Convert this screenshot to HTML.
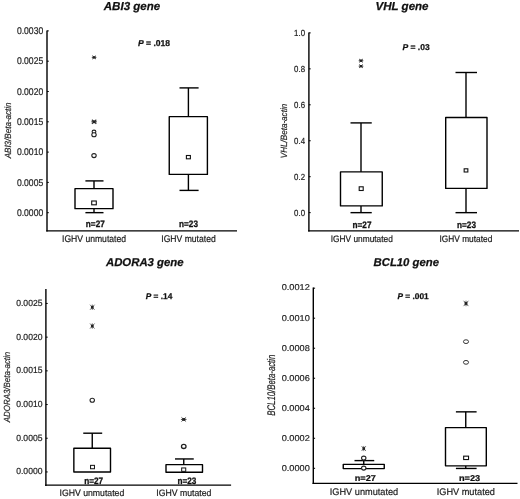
<!DOCTYPE html>
<html><head><meta charset="utf-8"><title>Gene expression box plots</title>
<style>
html,body{margin:0;padding:0;background:#fff;}
svg{display:block;font-family:"Liberation Sans", Arial, Helvetica, sans-serif;will-change:transform;text-rendering:geometricPrecision;}
</style></head><body>
<svg width="520" height="499" viewBox="0 0 520 499">
<rect width="520" height="499" fill="#fff"/>
<g transform="translate(0,0.4)">
<line x1="47" y1="30.2" x2="47" y2="231.2" stroke="#000" stroke-width="1.4"/>
<line x1="46.25" y1="230.5" x2="237" y2="230.5" stroke="#000" stroke-width="1.25"/>
<line x1="47" y1="212.3" x2="48.8" y2="212.3" stroke="#000" stroke-width="1.0"/>
<text transform="translate(43.20,215.40) scale(1,1.13)" font-size="8.6" text-anchor="end" font-weight="normal" font-style="normal" fill="#222"  stroke="#222" stroke-width="0.18">0.0000</text>
<line x1="47" y1="182.0" x2="48.8" y2="182.0" stroke="#000" stroke-width="1.0"/>
<text transform="translate(43.20,185.10) scale(1,1.13)" font-size="8.6" text-anchor="end" font-weight="normal" font-style="normal" fill="#222"  stroke="#222" stroke-width="0.18">0.0005</text>
<line x1="47" y1="151.70000000000002" x2="48.8" y2="151.70000000000002" stroke="#000" stroke-width="1.0"/>
<text transform="translate(43.20,154.80) scale(1,1.13)" font-size="8.6" text-anchor="end" font-weight="normal" font-style="normal" fill="#222"  stroke="#222" stroke-width="0.18">0.0010</text>
<line x1="47" y1="121.4" x2="48.8" y2="121.4" stroke="#000" stroke-width="1.0"/>
<text transform="translate(43.20,124.50) scale(1,1.13)" font-size="8.6" text-anchor="end" font-weight="normal" font-style="normal" fill="#222"  stroke="#222" stroke-width="0.18">0.0015</text>
<line x1="47" y1="91.10000000000001" x2="48.8" y2="91.10000000000001" stroke="#000" stroke-width="1.0"/>
<text transform="translate(43.20,94.20) scale(1,1.13)" font-size="8.6" text-anchor="end" font-weight="normal" font-style="normal" fill="#222"  stroke="#222" stroke-width="0.18">0.0020</text>
<line x1="47" y1="60.80000000000001" x2="48.8" y2="60.80000000000001" stroke="#000" stroke-width="1.0"/>
<text transform="translate(43.20,63.90) scale(1,1.13)" font-size="8.6" text-anchor="end" font-weight="normal" font-style="normal" fill="#222"  stroke="#222" stroke-width="0.18">0.0025</text>
<line x1="47" y1="30.5" x2="48.8" y2="30.5" stroke="#000" stroke-width="1.0"/>
<text transform="translate(43.20,33.60) scale(1,1.13)" font-size="8.6" text-anchor="end" font-weight="normal" font-style="normal" fill="#222"  stroke="#222" stroke-width="0.18">0.0030</text>
<line x1="94" y1="180.5" x2="94" y2="188.25" stroke="#000" stroke-width="1.4"/>
<line x1="85.4" y1="180.5" x2="103.5" y2="180.5" stroke="#000" stroke-width="1.4"/>
<line x1="94" y1="208.25" x2="94" y2="212.25" stroke="#000" stroke-width="1.4"/>
<line x1="85.4" y1="212.25" x2="103.5" y2="212.25" stroke="#000" stroke-width="1.4"/>
<rect x="75" y="188.25" width="38" height="20.0" fill="#fff" stroke="#000" stroke-width="1.4" stroke-linejoin="round"/>
<line x1="188.4" y1="87.5" x2="188.4" y2="116.25" stroke="#000" stroke-width="1.4"/>
<line x1="179.5" y1="87.5" x2="198.6" y2="87.5" stroke="#000" stroke-width="1.4"/>
<line x1="188.4" y1="174" x2="188.4" y2="190" stroke="#000" stroke-width="1.4"/>
<line x1="179.5" y1="190" x2="198.6" y2="190" stroke="#000" stroke-width="1.4"/>
<rect x="169.25" y="116.25" width="38.150000000000006" height="57.75" fill="#fff" stroke="#000" stroke-width="1.4" stroke-linejoin="round"/>
<rect x="91.70" y="200.60" width="4.60" height="3.8" fill="#fff" stroke="#111" stroke-width="1.1"/>
<rect x="186.40" y="155.10" width="3.99" height="3.3" fill="#fff" stroke="#111" stroke-width="1.1"/>
<ellipse cx="94" cy="155.2" rx="2.21" ry="1.99" fill="#fff" stroke="#222" stroke-width="1.1"/>
<ellipse cx="94" cy="131.4" rx="1.89" ry="1.70" fill="#fff" stroke="#222" stroke-width="1.1"/>
<ellipse cx="94" cy="134.4" rx="2.21" ry="1.99" fill="#fff" stroke="#222" stroke-width="1.1"/>
<g stroke="#333" stroke-width="1.1"><line x1="91.40" y1="121.4" x2="96.80" y2="121.4"/><line x1="91.89" y1="119.38" x2="96.31" y2="123.43"/><line x1="91.89" y1="123.43" x2="96.31" y2="119.38"/><rect x="92.75" y="120.05" width="2.70" height="2.70" fill="#222" stroke="none"/></g>
<g stroke="#333" stroke-width="0.9"><line x1="91.80" y1="57.0" x2="96.40" y2="57.0"/><line x1="92.21" y1="55.27" x2="95.99" y2="58.73"/><line x1="92.21" y1="58.73" x2="95.99" y2="55.27"/><rect x="92.95" y="55.85" width="2.30" height="2.30" fill="#222" stroke="none"/></g>
</g>
<text transform="translate(95.30,227.40) scale(1,1.14)" font-size="8.2" text-anchor="middle" font-weight="bold" font-style="normal" fill="#111"  stroke="#111" stroke-width="0.25">n=27</text>
<text transform="translate(188.50,227.40) scale(1,1.14)" font-size="8.2" text-anchor="middle" font-weight="bold" font-style="normal" fill="#111"  stroke="#111" stroke-width="0.25">n=23</text>
<text transform="translate(94.00,242.00) scale(1,1.12)" font-size="8.6" text-anchor="middle" font-weight="normal" font-style="normal" fill="#1a1a1a"  stroke="#1a1a1a" stroke-width="0.18">IGHV unmutated</text>
<text transform="translate(188.50,242.00) scale(1,1.12)" font-size="8.6" text-anchor="middle" font-weight="normal" font-style="normal" fill="#1a1a1a"  stroke="#1a1a1a" stroke-width="0.18">IGHV mutated</text>
<text x="138" y="46.0" font-size="8.55" font-weight="bold" fill="#111" stroke="#111" stroke-width="0.25"><tspan font-style="italic">P</tspan> = .018</text>
<text transform="translate(132.00,10.30) scale(1,1.0)" font-size="11.55" text-anchor="middle" font-weight="bold" font-style="italic" fill="#111"  stroke="#111" stroke-width="0.25">ABI3 gene</text>
<text transform="translate(10.6,130.4) rotate(-90) scale(1,1.12)" font-size="8.06" text-anchor="middle" font-style="italic" fill="#222" stroke="#222" stroke-width="0.15">ABI3/Beta-actin</text>
<g transform="translate(0,0.4)">
<line x1="308.9" y1="32.2" x2="308.9" y2="231.2" stroke="#000" stroke-width="1.4"/>
<line x1="308.15" y1="230.5" x2="519" y2="230.5" stroke="#000" stroke-width="1.25"/>
<line x1="308.9" y1="212.25" x2="310.7" y2="212.25" stroke="#000" stroke-width="1.0"/>
<text transform="translate(305.00,215.48) scale(1,1.13)" font-size="7.85" text-anchor="end" font-weight="normal" font-style="normal" fill="#222"  stroke="#222" stroke-width="0.18">0.0</text>
<line x1="308.9" y1="176.3" x2="310.7" y2="176.3" stroke="#000" stroke-width="1.0"/>
<text transform="translate(305.00,179.53) scale(1,1.13)" font-size="7.85" text-anchor="end" font-weight="normal" font-style="normal" fill="#222"  stroke="#222" stroke-width="0.18">0.2</text>
<line x1="308.9" y1="140.35" x2="310.7" y2="140.35" stroke="#000" stroke-width="1.0"/>
<text transform="translate(305.00,143.58) scale(1,1.13)" font-size="7.85" text-anchor="end" font-weight="normal" font-style="normal" fill="#222"  stroke="#222" stroke-width="0.18">0.4</text>
<line x1="308.9" y1="104.4" x2="310.7" y2="104.4" stroke="#000" stroke-width="1.0"/>
<text transform="translate(305.00,107.63) scale(1,1.13)" font-size="7.85" text-anchor="end" font-weight="normal" font-style="normal" fill="#222"  stroke="#222" stroke-width="0.18">0.6</text>
<line x1="308.9" y1="68.44999999999999" x2="310.7" y2="68.44999999999999" stroke="#000" stroke-width="1.0"/>
<text transform="translate(305.00,71.68) scale(1,1.13)" font-size="7.85" text-anchor="end" font-weight="normal" font-style="normal" fill="#222"  stroke="#222" stroke-width="0.18">0.8</text>
<line x1="308.9" y1="32.5" x2="310.7" y2="32.5" stroke="#000" stroke-width="1.0"/>
<text transform="translate(305.00,35.73) scale(1,1.13)" font-size="7.85" text-anchor="end" font-weight="normal" font-style="normal" fill="#222"  stroke="#222" stroke-width="0.18">1.0</text>
<line x1="361" y1="122.5" x2="361" y2="171.5" stroke="#000" stroke-width="1.4"/>
<line x1="350.5" y1="122.5" x2="371.75" y2="122.5" stroke="#000" stroke-width="1.4"/>
<line x1="361" y1="205.5" x2="361" y2="212.25" stroke="#000" stroke-width="1.4"/>
<line x1="350.5" y1="212.25" x2="371.75" y2="212.25" stroke="#000" stroke-width="1.4"/>
<rect x="340.5" y="171.5" width="41.75" height="34.0" fill="#fff" stroke="#000" stroke-width="1.4" stroke-linejoin="round"/>
<line x1="466" y1="72.1" x2="466" y2="117.1" stroke="#000" stroke-width="1.4"/>
<line x1="455.5" y1="72.1" x2="477" y2="72.1" stroke="#000" stroke-width="1.4"/>
<line x1="466" y1="188" x2="466" y2="212.25" stroke="#000" stroke-width="1.4"/>
<line x1="455.5" y1="212.25" x2="477" y2="212.25" stroke="#000" stroke-width="1.4"/>
<rect x="445.7" y="117.1" width="41.30000000000001" height="70.9" fill="#fff" stroke="#000" stroke-width="1.4" stroke-linejoin="round"/>
<rect x="359.20" y="186.40" width="4.00" height="3.7" fill="#fff" stroke="#111" stroke-width="1.1"/>
<rect x="464.16" y="168.40" width="3.68" height="3.2" fill="#fff" stroke="#111" stroke-width="1.1"/>
<g stroke="#333" stroke-width="0.9"><line x1="358.70" y1="60.3" x2="363.30" y2="60.3"/><line x1="359.11" y1="58.57" x2="362.89" y2="62.02"/><line x1="359.11" y1="62.02" x2="362.89" y2="58.57"/><rect x="359.85" y="59.15" width="2.30" height="2.30" fill="#222" stroke="none"/></g>
<g stroke="#333" stroke-width="0.9"><line x1="358.70" y1="65.8" x2="363.30" y2="65.8"/><line x1="359.11" y1="64.08" x2="362.89" y2="67.52"/><line x1="359.11" y1="67.52" x2="362.89" y2="64.08"/><rect x="359.85" y="64.65" width="2.30" height="2.30" fill="#222" stroke="none"/></g>
</g>
<text transform="translate(362.00,227.60) scale(1,1.14)" font-size="8.2" text-anchor="middle" font-weight="bold" font-style="normal" fill="#111"  stroke="#111" stroke-width="0.25">n=27</text>
<text transform="translate(466.50,227.60) scale(1,1.14)" font-size="8.2" text-anchor="middle" font-weight="bold" font-style="normal" fill="#111"  stroke="#111" stroke-width="0.25">n=23</text>
<text transform="translate(361.80,242.10) scale(1,1.12)" font-size="8.33" text-anchor="middle" font-weight="normal" font-style="normal" fill="#1a1a1a"  stroke="#1a1a1a" stroke-width="0.18">IGHV unmutated</text>
<text transform="translate(465.90,242.10) scale(1,1.12)" font-size="8.33" text-anchor="middle" font-weight="normal" font-style="normal" fill="#1a1a1a"  stroke="#1a1a1a" stroke-width="0.18">IGHV mutated</text>
<text x="402.5" y="49.9" font-size="8.5" font-weight="bold" fill="#111" stroke="#111" stroke-width="0.25"><tspan font-style="italic">P</tspan> = .03</text>
<text transform="translate(402.00,10.00) scale(1,1.0)" font-size="11.55" text-anchor="middle" font-weight="bold" font-style="italic" fill="#111"  stroke="#111" stroke-width="0.25">VHL gene</text>
<text transform="translate(287.0,131) rotate(-90) scale(1,1.12)" font-size="8.1" text-anchor="middle" font-style="italic" fill="#222" stroke="#222" stroke-width="0.15">VHL/Beta-actin</text>
<g transform="translate(0,0.45)">
<line x1="45.9" y1="288.45" x2="45.9" y2="485.45" stroke="#000" stroke-width="1.4"/>
<line x1="45.15" y1="484.75" x2="231.1" y2="484.75" stroke="#000" stroke-width="1.25"/>
<line x1="45.9" y1="471.5" x2="47.699999999999996" y2="471.5" stroke="#000" stroke-width="1.0"/>
<text transform="translate(42.50,474.00) scale(1,1.04)" font-size="8.6" text-anchor="end" font-weight="normal" font-style="normal" fill="#222"  stroke="#222" stroke-width="0.18">0.0000</text>
<line x1="45.9" y1="437.8" x2="47.699999999999996" y2="437.8" stroke="#000" stroke-width="1.0"/>
<text transform="translate(42.50,440.30) scale(1,1.04)" font-size="8.6" text-anchor="end" font-weight="normal" font-style="normal" fill="#222"  stroke="#222" stroke-width="0.18">0.0005</text>
<line x1="45.9" y1="404.1" x2="47.699999999999996" y2="404.1" stroke="#000" stroke-width="1.0"/>
<text transform="translate(42.50,406.60) scale(1,1.04)" font-size="8.6" text-anchor="end" font-weight="normal" font-style="normal" fill="#222"  stroke="#222" stroke-width="0.18">0.0010</text>
<line x1="45.9" y1="370.4" x2="47.699999999999996" y2="370.4" stroke="#000" stroke-width="1.0"/>
<text transform="translate(42.50,372.90) scale(1,1.04)" font-size="8.6" text-anchor="end" font-weight="normal" font-style="normal" fill="#222"  stroke="#222" stroke-width="0.18">0.0015</text>
<line x1="45.9" y1="336.7" x2="47.699999999999996" y2="336.7" stroke="#000" stroke-width="1.0"/>
<text transform="translate(42.50,339.20) scale(1,1.04)" font-size="8.6" text-anchor="end" font-weight="normal" font-style="normal" fill="#222"  stroke="#222" stroke-width="0.18">0.0020</text>
<line x1="45.9" y1="303.0" x2="47.699999999999996" y2="303.0" stroke="#000" stroke-width="1.0"/>
<text transform="translate(42.50,305.50) scale(1,1.04)" font-size="8.6" text-anchor="end" font-weight="normal" font-style="normal" fill="#222"  stroke="#222" stroke-width="0.18">0.0025</text>
<line x1="92.25" y1="432.75" x2="92.25" y2="447.75" stroke="#000" stroke-width="1.4"/>
<line x1="83.25" y1="432.75" x2="102.2" y2="432.75" stroke="#000" stroke-width="1.4"/>
<rect x="73.85" y="447.75" width="36.650000000000006" height="23.75" fill="#fff" stroke="#000" stroke-width="1.4" stroke-linejoin="round"/>
<line x1="183.75" y1="458.5" x2="183.75" y2="464.2" stroke="#000" stroke-width="1.4"/>
<line x1="175" y1="458.5" x2="193.75" y2="458.5" stroke="#000" stroke-width="1.4"/>
<rect x="166" y="464.2" width="36.5" height="7.550000000000011" fill="#fff" stroke="#000" stroke-width="1.4" stroke-linejoin="round"/>
<rect x="90.55" y="464.90" width="3.91" height="3.4" fill="#fff" stroke="#111" stroke-width="1.0"/>
<rect x="181.66" y="467.50" width="4.08" height="3.4" fill="#fff" stroke="#111" stroke-width="1.0"/>
<ellipse cx="92.25" cy="399.75" rx="2.21" ry="1.99" fill="#fff" stroke="#222" stroke-width="1.1"/>
<ellipse cx="183.75" cy="446" rx="2.27" ry="2.04" fill="#fff" stroke="#222" stroke-width="1.3"/>
<g stroke="#555" stroke-width="0.8"><line x1="92.3" y1="304.10" x2="92.3" y2="309.50"/><line x1="90.00" y1="304.24" x2="94.59" y2="309.37"/><line x1="90.00" y1="309.37" x2="94.59" y2="304.24"/><rect x="90.95" y="305.45" width="2.70" height="2.70" fill="#222" stroke="none"/></g>
<g stroke="#555" stroke-width="0.8"><line x1="92.3" y1="322.90" x2="92.3" y2="328.30"/><line x1="90.00" y1="323.04" x2="94.59" y2="328.17"/><line x1="90.00" y1="328.17" x2="94.59" y2="323.04"/><rect x="90.95" y="324.25" width="2.70" height="2.70" fill="#222" stroke="none"/></g>
<g stroke="#444" stroke-width="0.9"><line x1="180.95" y1="419.0" x2="186.55" y2="419.0"/><line x1="181.45" y1="416.90" x2="186.05" y2="421.10"/><line x1="181.45" y1="421.10" x2="186.05" y2="416.90"/><rect x="182.35" y="417.60" width="2.80" height="2.80" fill="#222" stroke="none"/></g>
</g>
<text transform="translate(93.60,484.20) scale(1,1.14)" font-size="8.2" text-anchor="middle" font-weight="bold" font-style="normal" fill="#111"  stroke="#111" stroke-width="0.25">n=27</text>
<text transform="translate(186.90,484.20) scale(1,1.14)" font-size="8.2" text-anchor="middle" font-weight="bold" font-style="normal" fill="#111"  stroke="#111" stroke-width="0.25">n=23</text>
<text transform="translate(91.90,496.00) scale(1,1.07)" font-size="8.7" text-anchor="middle" font-weight="normal" font-style="normal" fill="#1a1a1a"  stroke="#1a1a1a" stroke-width="0.18">IGHV unmutated</text>
<text transform="translate(183.80,496.00) scale(1,1.07)" font-size="8.7" text-anchor="middle" font-weight="normal" font-style="normal" fill="#1a1a1a"  stroke="#1a1a1a" stroke-width="0.18">IGHV mutated</text>
<text x="145.75" y="298.85" font-size="8.3" font-weight="bold" fill="#111" stroke="#111" stroke-width="0.25"><tspan font-style="italic">P</tspan> = .14</text>
<text transform="translate(144.75,265.60) scale(1,1.0)" font-size="11.37" text-anchor="middle" font-weight="bold" font-style="italic" fill="#111"  stroke="#111" stroke-width="0.25">ADORA3 gene</text>
<text transform="translate(10.0,387) rotate(-90) scale(1,1.12)" font-size="7.93" text-anchor="middle" font-style="italic" fill="#222" stroke="#222" stroke-width="0.15">ADORA3/Beta-actin</text>
<g transform="translate(0,0.35)">
<line x1="313.3" y1="287.2" x2="313.3" y2="483.7" stroke="#000" stroke-width="1.4"/>
<line x1="312.55" y1="483" x2="517.5" y2="483" stroke="#000" stroke-width="1.25"/>
<line x1="313.3" y1="467.95" x2="315.1" y2="467.95" stroke="#000" stroke-width="1.0"/>
<text transform="translate(309.80,471.13) scale(1,0.92)" font-size="9.2" text-anchor="end" font-weight="normal" font-style="normal" fill="#222"  stroke="#222" stroke-width="0.18">0.0000</text>
<line x1="313.3" y1="437.93" x2="315.1" y2="437.93" stroke="#000" stroke-width="1.0"/>
<text transform="translate(309.80,440.94) scale(1,0.92)" font-size="9.2" text-anchor="end" font-weight="normal" font-style="normal" fill="#222"  stroke="#222" stroke-width="0.18">0.0002</text>
<line x1="313.3" y1="407.90999999999997" x2="315.1" y2="407.90999999999997" stroke="#000" stroke-width="1.0"/>
<text transform="translate(309.80,410.75) scale(1,0.92)" font-size="9.2" text-anchor="end" font-weight="normal" font-style="normal" fill="#222"  stroke="#222" stroke-width="0.18">0.0004</text>
<line x1="313.3" y1="377.89" x2="315.1" y2="377.89" stroke="#000" stroke-width="1.0"/>
<text transform="translate(309.80,380.56) scale(1,0.92)" font-size="9.2" text-anchor="end" font-weight="normal" font-style="normal" fill="#222"  stroke="#222" stroke-width="0.18">0.0006</text>
<line x1="313.3" y1="347.87" x2="315.1" y2="347.87" stroke="#000" stroke-width="1.0"/>
<text transform="translate(309.80,350.37) scale(1,0.92)" font-size="9.2" text-anchor="end" font-weight="normal" font-style="normal" fill="#222"  stroke="#222" stroke-width="0.18">0.0008</text>
<line x1="313.3" y1="317.85" x2="315.1" y2="317.85" stroke="#000" stroke-width="1.0"/>
<text transform="translate(309.80,320.18) scale(1,0.92)" font-size="9.2" text-anchor="end" font-weight="normal" font-style="normal" fill="#222"  stroke="#222" stroke-width="0.18">0.0010</text>
<line x1="313.3" y1="287.83000000000004" x2="315.1" y2="287.83000000000004" stroke="#000" stroke-width="1.0"/>
<text transform="translate(309.80,289.99) scale(1,0.92)" font-size="9.2" text-anchor="end" font-weight="normal" font-style="normal" fill="#222"  stroke="#222" stroke-width="0.18">0.0012</text>
<line x1="363.75" y1="460.25" x2="363.75" y2="464" stroke="#000" stroke-width="1.4"/>
<line x1="354.5" y1="460.25" x2="374.25" y2="460.25" stroke="#000" stroke-width="1.4"/>
<rect x="343.25" y="464" width="41.0" height="4.25" fill="#fff" stroke="#000" stroke-width="1.4" stroke-linejoin="round"/>
<line x1="465.75" y1="411.5" x2="465.75" y2="427.25" stroke="#000" stroke-width="1.4"/>
<line x1="455.9" y1="411.5" x2="476.6" y2="411.5" stroke="#000" stroke-width="1.4"/>
<line x1="465.75" y1="465.5" x2="465.75" y2="468.1" stroke="#000" stroke-width="1.4"/>
<line x1="455.9" y1="468.1" x2="476.6" y2="468.1" stroke="#000" stroke-width="1.4"/>
<rect x="445.5" y="427.25" width="40.80000000000001" height="38.25" fill="#fff" stroke="#000" stroke-width="1.4" stroke-linejoin="round"/>
<rect x="463.65" y="455.80" width="4.90" height="3.4" fill="#fff" stroke="#111" stroke-width="1.1"/>
<ellipse cx="363.75" cy="457.75" rx="2.21" ry="1.99" fill="#fff" stroke="#222" stroke-width="1.1"/>
<ellipse cx="363.75" cy="467.75" rx="2.21" ry="1.99" fill="#fff" stroke="#222" stroke-width="1.1"/>
<ellipse cx="466" cy="341.3" rx="2.56" ry="1.90" fill="#fff" stroke="#222" stroke-width="0.9"/>
<ellipse cx="466" cy="362" rx="2.56" ry="1.90" fill="#fff" stroke="#222" stroke-width="0.9"/>
<g stroke="#555" stroke-width="0.8"><line x1="363.75" y1="445.60" x2="363.75" y2="450.80"/><line x1="361.54" y1="445.73" x2="365.96" y2="450.67"/><line x1="361.54" y1="450.67" x2="365.96" y2="445.73"/><rect x="362.45" y="446.90" width="2.60" height="2.60" fill="#222" stroke="none"/></g>
<g stroke="#555" stroke-width="0.9"><line x1="466" y1="300.30" x2="466" y2="305.90"/><line x1="463.62" y1="300.44" x2="468.38" y2="305.76"/><line x1="463.62" y1="305.76" x2="468.38" y2="300.44"/><rect x="464.60" y="301.70" width="2.80" height="2.80" fill="#222" stroke="none"/></g>
</g>
<text transform="translate(365.30,481.30) scale(1,0.93)" font-size="9.2" text-anchor="middle" font-weight="bold" font-style="normal" fill="#111"  stroke="#111" stroke-width="0.25">n=27</text>
<text transform="translate(469.60,481.30) scale(1,0.93)" font-size="9.2" text-anchor="middle" font-weight="bold" font-style="normal" fill="#111"  stroke="#111" stroke-width="0.25">n=23</text>
<text transform="translate(364.00,494.50) scale(1,1.04)" font-size="9.2" text-anchor="middle" font-weight="normal" font-style="normal" fill="#1a1a1a"  stroke="#1a1a1a" stroke-width="0.18">IGHV unmutated</text>
<text transform="translate(465.80,494.50) scale(1,1.04)" font-size="9.2" text-anchor="middle" font-weight="normal" font-style="normal" fill="#1a1a1a"  stroke="#1a1a1a" stroke-width="0.18">IGHV mutated</text>
<text x="397.5" y="298.75" font-size="8.3" font-weight="bold" fill="#111" stroke="#111" stroke-width="0.25"><tspan font-style="italic">P</tspan> = .001</text>
<text transform="translate(406.25,265.90) scale(1,1.0)" font-size="11.34" text-anchor="middle" font-weight="bold" font-style="italic" fill="#111"  stroke="#111" stroke-width="0.25">BCL10 gene</text>
<text transform="translate(275.2,385.2) rotate(-90) scale(1,1.42)" font-size="7.8" text-anchor="middle" font-style="italic" fill="#222" stroke="#222" stroke-width="0.15">BCL10/Beta-actin</text>
</svg>
</body></html>
